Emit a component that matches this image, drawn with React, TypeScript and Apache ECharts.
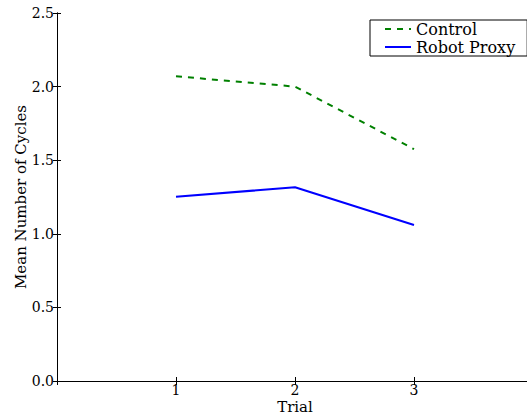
import React, { useEffect, useRef } from "react";
import * as echarts from "echarts";

const trials = [1, 2, 3];
const controlValues = [2.07, 2.0, 1.575];
const robotProxyValues = [1.252, 1.316, 1.06];
const seriesNames = ["Control", "Robot Proxy"];
const xTickLabels = ["1", "2", "3"];

const FONT = "DejaVu Serif";

export default function App() {
  const ref = useRef<HTMLDivElement>(null);
  useEffect(() => {
    if (!ref.current) return;
    const chart = echarts.init(ref.current, null, { renderer: "svg" });
    const axisLine = { show: true, lineStyle: { color: "#000", width: 1 } };
    const tickStyle = { show: true, inside: true, length: 4, lineStyle: { color: "#000" } };
    chart.setOption({
      animation: false,
      backgroundColor: "#fff",
      grid: {
        left: 57,
        top: 13,
        right: -6,
        bottom: 36,
        containLabel: false,
        outerBoundsMode: "none",
      },
      legend: {
        left: 370,
        top: 20,
        orient: "vertical",
        itemWidth: 26,
        itemHeight: 10,
        itemGap: 2,
        padding: [1, 12, 1, 14],
        borderColor: "#000",
        borderWidth: 1,
        borderRadius: 0,
        backgroundColor: "#fff",
        itemStyle: { opacity: 0 },
        textStyle: { fontFamily: FONT, fontSize: 16, color: "#000" },
        data: seriesNames,
      },
      xAxis: [
        {
          type: "value",
          min: 0,
          max: 4,
          interval: 1,
          name: "Trial",
          nameLocation: "middle",
          nameGap: 18,
          nameMoveOverlap: false,
          nameTextStyle: { fontFamily: FONT, fontSize: 15, color: "#000" },
          axisLine,
          axisTick: tickStyle,
          splitLine: { show: false },
          axisLabel: {
            fontFamily: FONT,
            fontSize: 14,
            color: "#000",
            margin: 2,
            formatter: (v: number) => (xTickLabels.includes(String(v)) ? String(v) : ""),
          },
        },
        {
          type: "value",
          position: "top",
          min: 0,
          max: 4,
          interval: 1,
          axisLine,
          axisTick: tickStyle,
          splitLine: { show: false },
          axisLabel: { show: false },
        },
      ],
      yAxis: [
        {
          type: "value",
          min: 0,
          max: 2.5,
          interval: 0.5,
          name: "Mean Number of Cycles",
          nameLocation: "middle",
          nameGap: 29,
          nameMoveOverlap: false,
          nameTextStyle: { fontFamily: FONT, fontSize: 15, color: "#000" },
          axisLine,
          axisTick: tickStyle,
          splitLine: { show: false },
          axisLabel: {
            fontFamily: FONT,
            fontSize: 14,
            color: "#000",
            margin: 3,
            formatter: (v: number) => v.toFixed(1),
          },
        },
        {
          type: "value",
          position: "right",
          min: 0,
          max: 2.5,
          interval: 0.5,
          axisLine,
          axisTick: tickStyle,
          splitLine: { show: false },
          axisLabel: { show: false },
        },
      ],
      series: [
        {
          name: seriesNames[0],
          type: "line",
          data: trials.map((t, i) => [t, controlValues[i]]),
          showSymbol: false,
          symbol: "none",
          lineStyle: { color: "#008000", width: 2, type: [6, 6] },
          itemStyle: { color: "#008000" },
        },
        {
          name: seriesNames[1],
          type: "line",
          data: trials.map((t, i) => [t, robotProxyValues[i]]),
          showSymbol: false,
          symbol: "none",
          lineStyle: { color: "#0000ff", width: 2 },
          itemStyle: { color: "#0000ff" },
        },
      ],
    });
    return () => chart.dispose();
  }, []);
  return (
    <div
      ref={ref}
      style={{ position: "fixed", left: 0, top: 0, width: 527, height: 417 }}
    />
  );
}
